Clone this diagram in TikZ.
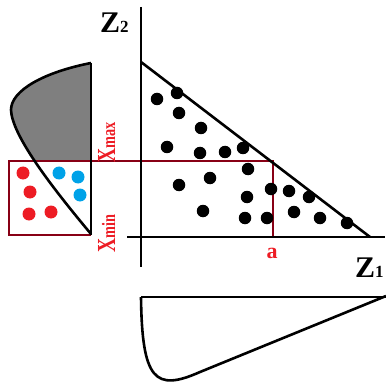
\documentclass[tikz,border=0pt]{standalone}
\usepackage{fontspec}
\setmainfont{Liberation Serif}
\definecolor{dotred}{HTML}{ED1C24}
\definecolor{dotblue}{HTML}{00A2E8}
\definecolor{boxred}{HTML}{880015}
\definecolor{grayfill}{HTML}{7F7F7F}
\tikzset{
  blk/.style={line width=2.6pt},
  redbox/.style={draw=boxred, line width=1.6pt},
  bdot/.style={circle, fill=black, inner sep=0pt, minimum size=12.5pt},
  rdot/.style={circle, fill=dotred, inner sep=0pt, minimum size=13pt},
  udot/.style={circle, fill=dotblue, inner sep=0pt, minimum size=13pt},
  lbl/.style={inner sep=0pt, font=\bfseries},
  rlbl/.style={inner sep=0pt, text=dotred, font=\bfseries},
}
\begin{document}
\begin{tikzpicture}[x=1pt,y=-1pt]
\useasboundingbox (0,0) rectangle (385,387);
% left distribution, shaded part above the box
\begin{scope}
  \clip (0,0) rectangle (100,161);
  \fill[grayfill] (91,63) .. controls (45,72) and (11,90) .. (11,110)
     .. controls (12,135) and (50,185) .. (91,234) -- cycle;
\end{scope}
% red box
\draw[redbox] (91,235) -- (9,235) -- (9,161) -- (273,161) -- (273,237);
% left distribution outline
\draw[blk] (91,63) .. controls (45,72) and (11,90) .. (11,110)
     .. controls (12,135) and (50,185) .. (91,234);
\draw[blk] (91,63) -- (91,235);
% axes
\coordinate (ytop) at (141,7);
\coordinate (ybot) at (141,267);
\coordinate (xl) at (127,237);
\coordinate (xr) at (385,237);
\draw[blk] (ytop) -- (ybot);
\draw[blk] (xl) -- (xr);
% hypotenuse
\coordinate (h1) at (141,62);
\coordinate (h2) at (370,237);
\draw[blk] (h1) -- (h2);
% bottom distribution
\draw[blk] (141,297) -- (386,297);
\draw[blk] (141,297) .. controls (142,380) and (155,392) .. (200,372) -- (386,296);
% black dots
\foreach \x/\y [count=\i] in {157/99,177/93,179/113,201/128,167/147,200/153,225/152,243/148,
  248/169,179/185,210/178,271/189,289/191,309/197,247/197,203/211,245/218,267/218,294/212,320/218,347/223}
  \node[bdot] (b\i) at (\x,\y) {};
% red dots
\foreach \x/\y [count=\i] in {23/173,30/192,29/214,51/212}
  \node[rdot] (r\i) at (\x,\y) {};
% blue dots
\foreach \x/\y [count=\i] in {59/173,78/177,80/195}
  \node[udot] (u\i) at (\x,\y) {};
% labels
\node[lbl, anchor=base west] (z2) at (100,33) {\fontsize{30}{30}\selectfont Z\fontsize{17}{17}\selectfont 2};
\node[lbl, anchor=base west] (z1) at (355,277) {\fontsize{30}{30}\selectfont Z\fontsize{17}{17}\selectfont 1};
\node[rlbl] (a) at (272,253) {\fontsize{22}{22}\selectfont a};
\node[rlbl, rotate=90, anchor=base west] (xmax) at (115,163) {\scalebox{0.75}[1]{\fontsize{26}{26}\selectfont X\fontsize{19}{19}\selectfont max}};
\node[rlbl, rotate=90, anchor=base west] (xmin) at (115,253) {\scalebox{0.75}[1]{\fontsize{26}{26}\selectfont X\fontsize{19}{19}\selectfont min}};
\end{tikzpicture}
\end{document}
